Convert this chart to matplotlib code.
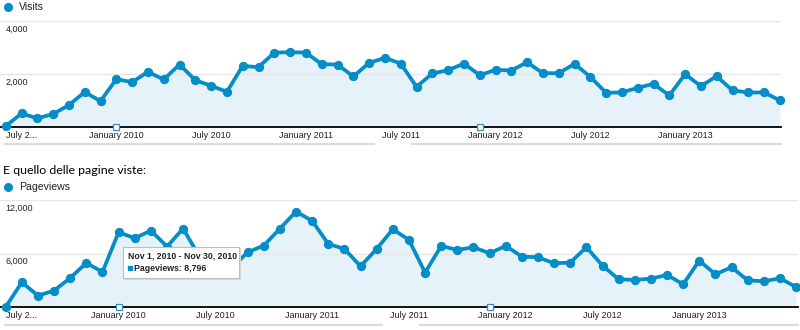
import numpy as np
import matplotlib
matplotlib.use('Agg')
import matplotlib.pyplot as plt
from matplotlib.lines import Line2D
from matplotlib.patches import Rectangle

# monthly data, June 2009 .. July 2013
visits = [30, 514, 326, 489, 828, 1317, 978, 1806, 1693, 2082, 1793, 2357,
          1768, 1555, 1329, 2307, 2257, 2809, 2821, 2809, 2370, 2357, 1906, 2420,
          2608, 2395, 1517, 2019, 2144, 2395, 1956, 2157, 2132, 2445, 2031, 2031,
          2382, 1893, 1292, 1304, 1480, 1630, 1191, 1994, 1542, 1918, 1379, 1304,
          1304, 1003]
pageviews = [40, 2798, 1306, 1866, 3284, 4963, 3955, 8396, 7724, 8582, 6791, 8806,
             5700, 5000, 4400, 6157, 6903, 8796, 10709, 9664, 7090, 6530, 4590, 6530,
             8731, 7537, 3881, 6866, 6418, 6716, 6045, 6866, 5672, 5597, 4925, 5000,
             6716, 4664, 3134, 3060, 3209, 3619, 2575, 5224, 3694, 4478, 3022, 2910,
             3246, 2276]

tick_idx = [0, 7, 13, 19, 25, 31, 37, 43]
tick_labels = ['July 2...', 'January 2010', 'July 2010', 'January 2011', 'July 2011',
               'January 2012', 'July 2012', 'January 2013']
note_idx = [7, 30]

plt.rcParams['font.family'] = ['Liberation Sans', 'DejaVu Sans']

blue = '#058dc7'
fill = '#e6f2fa'
W, H = 800, 330

fig = plt.figure(figsize=(W / 100, H / 100), dpi=100)
fig.patch.set_facecolor('white')


def add_chart(values, top, bottom, right, step, ymax, ymid, ylabels):
    x0 = 5.7
    ax = fig.add_axes([0, 1 - bottom / H, right / W, (bottom - top) / H])
    x = np.arange(len(values))
    ax.set_xlim(-x0 / step, (right - x0) / step)
    ax.set_ylim(0, ymax)
    ax.fill_between(x, values, 0, color=fill, lw=0)
    ax.plot(x, values, color=blue, lw=2.7, marker='o', ms=5.7, clip_on=False, zorder=3)
    ax.set_yticks([ymid, ymax])
    ax.set_yticklabels([])
    ax.grid(axis='y', color='#e6e6e6', lw=1)
    ax.tick_params(axis='y', length=0)
    for s in ['left', 'right', 'top']:
        ax.spines[s].set_visible(False)
    ax.spines['bottom'].set_color('black')
    ax.spines['bottom'].set_linewidth(1.3)
    ax.set_xticks(tick_idx, tick_labels)
    ax.tick_params(axis='x', length=0, pad=3, labelsize=6.5, labelcolor='#222222')
    ax.get_xticklabels()[0].set_horizontalalignment('left')
    for v, lab in zip([ymid, ymax], ylabels):
        ax.annotate(lab, xy=(0, v), xytext=(0, -2.5), textcoords='offset points',
                    va='top', ha='left', fontsize=6.5, color='#222222')
    ax.plot(note_idx, [0] * len(note_idx), ls='none', marker='s', ms=4.2,
            mfc='white', mec='#3a8cc4', mew=0.9, clip_on=False, zorder=4)
    return ax


def legend(y, label):
    fig.add_artist(Line2D([8 / W], [1 - y / H], marker='o', ms=5.5, color=blue, ls='none'))
    fig.text(19 / W, 1 - y / H, label, fontsize=7.6, va='center', ha='left', color='#222222')


def hline(y, x1, x2, color):
    fig.add_artist(Line2D([x1 / W, x2 / W], [1 - y / H] * 2, color=color, lw=1.6))


legend(7, 'Visits')
add_chart(visits, 21, 127, 781, 15.8, 4000, 2000, ['2,000', '4,000'])
hline(144, 5, 374, '#dcdcdc')
hline(144, 412, 781, '#dcdcdc')

fig.text(3.3 / W, 1 - 170.5 / H, 'E quello delle pagine viste:', fontsize=8.9,
         family='Lato', va='center', ha='left', color='black')

legend(187, 'Pageviews')
add_chart(pageviews, 200, 307.3, 798, 16.13, 12000, 6000, ['6,000', '12,000'])
hline(324.5, 5, 382, '#dcdcdc')
hline(324.5, 420, 798, '#dcdcdc')

# tooltip
tx0, ty0, tx1, ty1 = 122.7, 246.7, 239.3, 278.3
fig.add_artist(Rectangle(((tx0 + 1.5) / W, 1 - (ty1 + 1.5) / H), (tx1 - tx0) / W, (ty1 - ty0) / H,
                         facecolor='#d8d8d8', edgecolor='none', zorder=9))
fig.add_artist(Rectangle((tx0 / W, 1 - ty1 / H), (tx1 - tx0) / W, (ty1 - ty0) / H,
                         facecolor='white', edgecolor='#bdbdbd', lw=0.8, zorder=10))
fig.text(127.7 / W, 1 - 256.5 / H, 'Nov 1, 2010 - Nov 30, 2010', fontsize=6.3,
         weight='bold', va='center', ha='left', color='#222222', zorder=11)
fig.add_artist(Line2D([129.6 / W], [1 - 268.3 / H], marker='s', ms=2.3, color=blue,
                      ls='none', zorder=11))
fig.text(134.3 / W, 1 - 268.3 / H, 'Pageviews: 8,796', fontsize=6.3,
         weight='bold', va='center', ha='left', color='#222222', zorder=11)

fig.savefig('out.png', dpi=100)
